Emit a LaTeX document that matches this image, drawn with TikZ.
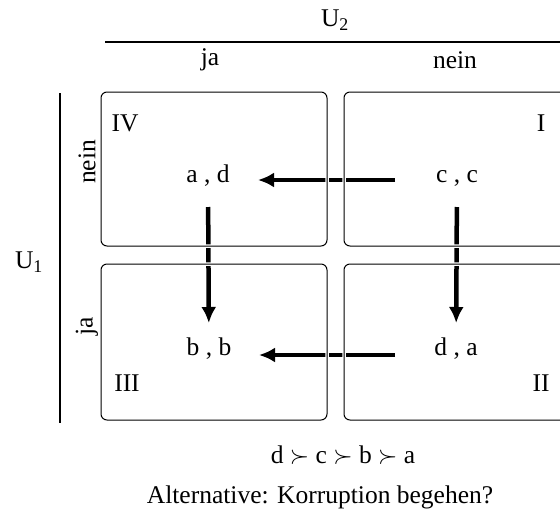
\documentclass[tikz,border=0pt]{standalone}
\usepackage{fontspec}
\setmainfont{Liberation Serif}
\usetikzlibrary{arrows.meta}

\tikzset{
  feld/.style={rounded corners=6pt, line width=1pt, preaction={draw=white, line width=3.5pt}},
  pfeil/.style={line width=4.5pt, -{Latex[length=16pt,width=15pt]}},
  wert/.style={inner sep=0pt, anchor=base},
}

\begin{document}
\begin{tikzpicture}[x=1pt,y=-1pt,font=\fontsize{25.5}{30}\selectfont]
\useasboundingbox (0,0) rectangle (560,515);

% Spieler U2 (oben)
\node (u2) at (335,20) {U\textsubscript{2}};
\draw[line width=1.8pt] (105,42) -- (560,42);
\node (u2ja) at (210,60) {ja};
\node (u2nein) at (455,60) {nein};

% Spieler U1 (links)
\draw[line width=1.8pt] (60,93) -- (60,423);
\node (u1) at (29,262) {U\textsubscript{1}};
\node[rotate=90] (u1nein) at (87,162) {nein};
\node[rotate=90] (u1ja) at (87,326) {ja};

% Auszahlungen
\node[wert] (ad) at (208,182) {a , d};
\node[wert] (cc) at (457,182) {c , c};
\node[wert] (bb) at (209,355) {b , b};
\node[wert] (da) at (456,355) {d , a};

\node (IV) at (125,123) {IV};
\node (I) at (541,123) {I};
\node (III) at (127,383) {III};
\node (II) at (541,383) {II};

% Pfeile
\draw[pfeil, shorten <=62pt, shorten >=50pt] ([yshift=2pt]cc.base) -- ([yshift=2pt]ad.base);
\draw[pfeil, shorten <=61pt, shorten >=50pt] (da.base) -- (bb.base);
\draw[pfeil, shorten <=25pt, shorten >=32pt] (ad.base) -- (bb.base);
\draw[pfeil, shorten <=25pt, shorten >=32pt] (cc.base) -- (da.base);

% Felder
\draw[feld] (101,92) rectangle (327,246);
\draw[feld] (344,92) rectangle (580,246);
\draw[feld] (101,264) rectangle (327,420);
\draw[feld] (344,264) rectangle (580,420);

\node (ordnung) at (343,455) {d $\succ$ c $\succ$ b $\succ$ a};
\node (frage) at (320,497) {Alternative: Korruption begehen?};
\end{tikzpicture}
\end{document}
